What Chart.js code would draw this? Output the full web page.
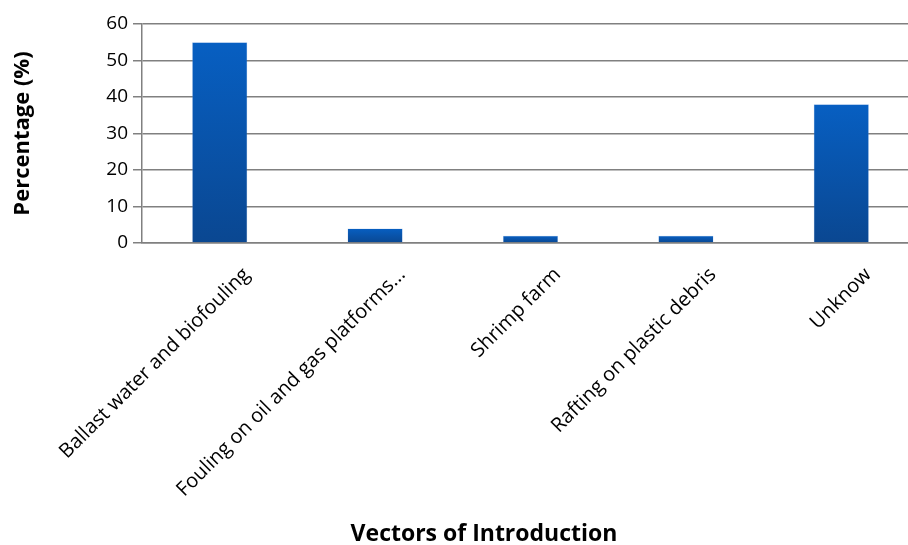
<!DOCTYPE html>
<html lang="en">
<head>
  <meta charset="UTF-8">
  <title>Vectors of Introduction</title>
  <script src="https://cdn.jsdelivr.net/npm/chart.js"></script>
  <style>
    html, body {
      margin: 0;
      padding: 0;
      background: #fff;
      overflow: hidden;
    }
    .wrap {
      width: 920px;
      height: 545px;
    }
  </style>
</head>
<body>
  <div class="wrap">
    <canvas id="chart" width="920" height="545"></canvas>
  </div>

  <script>
    const categories = [
      'Ballast water and biofouling',
      'Fouling on oil and gas platforms...',
      'Shrimp farm',
      'Rafting on plastic debris',
      'Unknow'
    ];
    const percentages = [55, 4, 2, 2, 38];
    const yTicks = [0, 10, 20, 30, 40, 50, 60];
    const xTitle = 'Vectors of Introduction';

    const FONT = '"Open Sans", sans-serif';

    // each bar gets its own top-to-bottom shade
    function barFill(ctx) {
      const chart = ctx.chart;
      if (!chart.chartArea || ctx.type !== 'data') return '#0756b0';
      const y = chart.scales.y;
      const top = y.getPixelForValue(ctx.raw);
      const bottom = y.getPixelForValue(0);
      const g = chart.ctx.createLinearGradient(0, top, 0, bottom);
      g.addColorStop(0, '#075fc2');
      g.addColorStop(1, '#0a4791');
      return g;
    }

    // x title is centred a bit left of the plot in the original, so draw it here
    const xTitlePlugin = {
      id: 'xTitle',
      afterDraw(chart) {
        const c = chart.ctx;
        c.save();
        c.font = 'bold 23px ' + FONT;
        c.fillStyle = '#000';
        c.textAlign = 'center';
        c.textBaseline = 'middle';
        c.fillText(xTitle, 484, 534);
        c.restore();
      }
    };

    new Chart(document.getElementById('chart'), {
      type: 'bar',
      data: {
        labels: categories,
        datasets: [{
          data: percentages,
          backgroundColor: barFill,
          borderColor: 'rgba(120,160,220,0.6)',
          borderWidth: 0.5,
          barPercentage: 0.355,
          categoryPercentage: 1
        }]
      },
      options: {
        responsive: false,
        animation: false,
        layout: { padding: { top: 24, left: 0, right: 1, bottom: 0 } },
        plugins: {
          legend: { display: false },
          tooltip: { enabled: false }
        },
        scales: {
          x: {
            grid: { display: false },
            border: { display: true, color: '#808080', width: 1.5 },
            ticks: {
              autoSkip: false,
              maxRotation: 45,
              minRotation: 45,
              labelOffset: 27,
              padding: 12,
              color: '#000',
              font: { family: FONT, size: 20 }
            },
            afterFit: s => { s.height = 302; }
          },
          y: {
            min: 0,
            max: 60,
            afterBuildTicks: s => { s.ticks = yTicks.map(v => ({ value: v })); },
            grid: {
              color: '#808080',
              lineWidth: 1.5,
              tickLength: 9,
              drawTicks: true
            },
            border: { display: true, color: '#808080', width: 1.5 },
            ticks: {
              padding: 5,
              color: '#000',
              font: { family: FONT, size: 19 }
            },
            title: {
              display: true,
              text: 'Percentage (%)',
              color: '#000',
              font: { family: FONT, size: 22, weight: 'bold' },
              padding: { top: 10, bottom: 0 }
            },
            afterFit: s => { s.width = 142; }
          }
        }
      },
      plugins: [xTitlePlugin]
    });
  </script>
</body>
</html>
